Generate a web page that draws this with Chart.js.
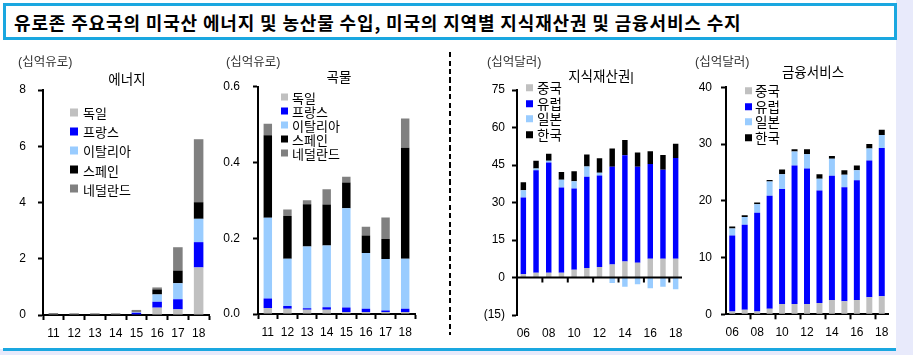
<!DOCTYPE html>
<html><head><meta charset="utf-8">
<script src="https://cdn.jsdelivr.net/npm/chart.js@4"></script>
<style>
html,body{margin:0;padding:0;}
body{width:913px;height:355px;background:#e8eafb;position:relative;overflow:hidden;font-family:"Liberation Sans","Noto Sans CJK KR",sans-serif;}
#sheet{position:absolute;left:0;top:0;width:896px;height:349px;background:#fff;}
#titlebox{position:absolute;left:3px;top:3px;width:894px;height:37px;box-sizing:border-box;border:3px solid #1aa7e0;background:#fff;}
#title{position:absolute;left:14px;top:22px;transform:translateY(-50%);font-family:"Noto Sans CJK KR",sans-serif;font-weight:bold;font-size:18px;letter-spacing:0.85px;white-space:nowrap;color:#000;}
#bottomline{position:absolute;left:3px;top:348px;width:893px;height:3px;background:#1aa7e0;}
#sep{position:absolute;left:449px;top:52px;width:2px;height:283px;background:repeating-linear-gradient(to bottom,#000 0px,#000 5px,rgba(0,0,0,0) 5px,rgba(0,0,0,0) 8.5px);}
canvas{position:absolute;left:0;top:0;}
.txt{position:absolute;white-space:nowrap;line-height:1;}
.unit{font-size:12.5px;color:#333;transform:translateY(-50%);}
.ptitle{font-size:13.5px;color:#000;transform:translate(-50%,-50%);}
.lgrow{position:absolute;white-space:nowrap;line-height:1;transform:translateY(-50%);display:flex;align-items:center;}
.lgsq{display:inline-block;}
</style>
</head><body>
<div id="sheet"></div>
<div id="titlebox"></div>
<div id="title">유로존 주요국의 미국산 에너지 및 농산물 수입, 미국의 지역별 지식재산권 및 금융서비스 수지</div>
<div id="bottomline"></div>
<div id="sep"></div>
<canvas id="c1" width="913" height="355"></canvas>
<canvas id="c2" width="913" height="355"></canvas>
<canvas id="c3" width="913" height="355"></canvas>
<canvas id="c4" width="913" height="355"></canvas>
<div class="txt unit" style="left:18px;top:62px;">(십억유로)</div>
<div class="txt unit" style="left:226px;top:62px;">(십억유로)</div>
<div class="txt unit" style="left:487px;top:62px;">(십억달러)</div>
<div class="txt unit" style="left:695px;top:62px;">(십억달러)</div>
<div class="txt ptitle" style="left:127px;top:80px;">에너지</div>
<div class="txt ptitle" style="left:339px;top:78px;">곡물</div>
<div class="txt ptitle" style="left:601px;top:77px;">지식재산권|</div>
<div class="txt ptitle" style="left:813px;top:73px;">금융서비스</div>
<div id="legends"></div>
<script>
// ---------- DATA ----------
const euroYears = ['11','12','13','14','15','16','17','18'];
const euroCountries = ['독일','프랑스','이탈리아','스페인','네덜란드'];

const energyGermany     = [0.02,0.02,0.02,0.02,0.02,0.26,0.20,1.69];
const energyFrance      = [0.00,0.00,0.00,0.00,0.06,0.21,0.36,0.90];
const energyItaly       = [0.00,0.00,0.00,0.00,0.02,0.26,0.57,0.83];
const energySpain       = [0.00,0.00,0.00,0.00,0.00,0.18,0.45,0.59];
const energyNetherlands = [0.05,0.04,0.04,0.04,0.08,0.07,0.83,2.24];

const grainGermany     = [0.016,0.014,0.011,0.011,0.005,0.005,0.005,0.005];
const grainFrance      = [0.025,0.007,0.004,0.007,0.012,0.009,0.004,0.009];
const grainItaly       = [0.213,0.125,0.163,0.163,0.262,0.147,0.136,0.132];
const grainSpain       = [0.218,0.113,0.112,0.108,0.068,0.046,0.053,0.293];
const grainNetherlands = [0.030,0.017,0.010,0.040,0.015,0.023,0.057,0.077];

const usYears = ['06','07','08','09','10','11','12','13','14','15','16','17','18'];
const usRegions = ['중국','유럽','일본','한국'];

const ipChina  = [1.3,1.9,1.9,1.9,3.1,3.8,4.2,5.2,6.4,5.9,7.5,7.5,7.5];
const ipEurope = [30.7,41.0,44.1,34.1,32.5,36.5,36.6,39.1,42.5,38.4,37.9,35.6,40.3];
const ipJapan  = [2.9,0.7,0.7,3.1,2.9,4.1,1.1,-2.2,-3.7,-2.7,-4.3,-3.7,-4.7];
const ipKorea  = [3.2,3.1,2.8,3.1,4.0,4.8,5.8,7.3,6.1,5.7,5.1,5.9,5.7];

const finChina  = [0.5,0.8,0.5,1.0,1.8,1.8,1.8,2.0,2.5,2.3,2.5,3.0,3.2];
const finEurope = [13.4,15.0,17.4,19.9,20.3,24.4,23.9,19.8,21.9,20.1,21.1,24.1,26.1];
const finJapan  = [1.2,1.35,1.5,2.5,2.6,2.5,2.5,2.1,3.0,2.2,1.8,2.1,2.3];
const finKorea  = [0.35,0.3,0.3,0.25,0.8,0.4,0.9,0.8,0.5,0.8,0.8,0.8,0.9];

const energyTicks = {min:0,max:8,step:2};
const grainTicks  = {min:0,max:0.6,step:0.2};
const ipTicks     = {min:-15,max:75,step:15};
const finTicks    = {min:0,max:40,step:10};

// ---------- STYLE ----------
const C_LGRAY='#c0c0c0', C_BLUE='#0000ff', C_LBLUE='#99ccff', C_BLACK='#000000', C_GRAY='#808080';
const euroColors=[C_LGRAY,C_BLUE,C_LBLUE,C_BLACK,C_GRAY];
const usColors=[C_LGRAY,C_BLUE,C_LBLUE,C_BLACK];

Chart.defaults.font.family='"Liberation Sans","Noto Sans CJK KR",sans-serif';
Chart.defaults.font.size=12;
Chart.defaults.color='#000';
Chart.defaults.animation=false;

const YW = 45; // fixed y-axis box width

function mkDatasets(labels, arrays, colors, bp){
  return arrays.map((d,i)=>({label:labels[i],data:d,backgroundColor:colors[i],borderWidth:0,
    categoryPercentage:1,barPercentage:bp,stack:'s'}));
}

function yAxis(t, pad, fmt){
  return {
    stacked:true,min:t.min,max:t.max,
    ticks:{stepSize:t.step,padding:pad,callback:fmt,color:'#000',font:{size:12}},
    border:{display:true,color:'#000',width:2},
    grid:{display:true,drawOnChartArea:false,drawTicks:true,tickLength:5,tickColor:'#000',tickWidth:2},
    afterFit(s){s.width=YW;}
  };
}

function mkChart(id, labels, datasets, yOpt, xOpt, padding, plugins){
  return new Chart(document.getElementById(id),{
    type:'bar',
    data:{labels:labels,datasets:datasets},
    options:{
      responsive:false,devicePixelRatio:1,
      layout:{padding:padding},
      plugins:{legend:{display:false},tooltip:{enabled:false}},
      scales:{x:xOpt,y:yOpt}
    },
    plugins:plugins||[]
  });
}

const xFull = (pad)=>({
  stacked:true,
  ticks:{padding:pad,autoSkip:false,maxRotation:0,color:'#000',font:{size:12}},
  border:{display:true,color:'#000',width:2},
  grid:{display:true,offset:true,drawOnChartArea:false,drawTicks:true,tickLength:5,tickColor:'#000',tickWidth:2},
  afterFit(s){s.height=30;}
});

// Panel 1: energy (plot area x 43..209, y 90..315)
const ch1 = mkChart('c1', euroYears,
  mkDatasets(euroCountries,[energyGermany,energyFrance,energyItaly,energySpain,energyNetherlands],euroColors,0.46),
  yAxis(energyTicks,12,v=>String(v)),
  xFull(6),
  {left:43-YW,right:704,top:90,bottom:10});

// Panel 2: grain (plot area x 258..415)
const ch2 = mkChart('c2', euroYears,
  mkDatasets(euroCountries,[grainGermany,grainFrance,grainItaly,grainSpain,grainNetherlands],euroColors,0.43),
  yAxis(grainTicks,13,v=>Number(v).toFixed(1)),
  xFull(6),
  {left:258-YW,right:498,top:86.7,bottom:11});

// zero line + tick marks plugin for panel 3
const zeroLinePlugin = {
  id:'zeroLine',
  afterDatasetsDraw(chart){
    const {ctx, chartArea, scales:{x,y}} = chart;
    const y0 = y.getPixelForValue(0);
    ctx.save();
    ctx.strokeStyle='#000';
    ctx.lineWidth=2;
    ctx.beginPath();
    ctx.moveTo(chartArea.left, y0);
    ctx.lineTo(chartArea.right, y0);
    ctx.stroke();
    for(let i=2;i<usYears.length;i+=2){
      const bx=(x.getPixelForValue(i)+x.getPixelForValue(i-1))/2;
      ctx.beginPath();
      ctx.moveTo(bx,y0);
      ctx.lineTo(bx,y0+5);
      ctx.stroke();
    }
    ctx.restore();
  }
};

// Panel 3: IP (plot area x 517..682, y 90..315)
const ch3 = mkChart('c3', usYears,
  mkDatasets(usRegions,[ipChina,ipEurope,ipJapan,ipKorea],usColors,0.43),
  yAxis(ipTicks,7,v=>v<0?'('+(-v)+')':String(v)),
  {
    stacked:true,
    ticks:{padding:3,autoSkip:false,maxRotation:0,color:'#000',font:{size:12},
      callback(v,i){return i%2===0?this.getLabelForValue(v):'';}},
    border:{display:false},
    grid:{display:false},
    afterFit(s){s.height=30;}
  },
  {left:517-YW,right:231,top:90,bottom:10},
  [zeroLinePlugin]);

// Panel 4: financial (plot area x 726..888)
const x4 = xFull(6);
x4.ticks.callback = function(v,i){return i%2===0?this.getLabelForValue(v):'';};
x4.grid.tickColor = ctx => (ctx.index%2===0 && ctx.index>0 && ctx.index<usYears.length) ? '#000' : 'rgba(0,0,0,0)';
const ch4 = mkChart('c4', usYears,
  mkDatasets(usRegions,[finChina,finEurope,finJapan,finKorea],usColors,0.48),
  yAxis(finTicks,9,v=>String(v)),
  x4,
  {left:726-YW,right:25,top:87.3,bottom:10.7});

// ---------- HTML legends built from chart datasets ----------
function legend(chart, sqX, sqSize, txtX, y0, step, fs){
  const host=document.getElementById('legends');
  chart.data.datasets.forEach((ds,i)=>{
    const row=document.createElement('div');
    row.className='lgrow';
    row.style.left=sqX+'px';
    row.style.top=(y0+i*step)+'px';
    const sq=document.createElement('span');
    sq.className='lgsq';
    sq.style.width=sqSize+'px';sq.style.height=sqSize+'px';
    sq.style.background=ds.backgroundColor;
    sq.style.marginRight=(txtX-sqX-sqSize)+'px';
    const t=document.createElement('span');
    t.textContent=ds.label;
    t.style.fontSize=fs+'px';
    t.style.fontFamily='"Noto Sans CJK KR",sans-serif';
    row.appendChild(sq);row.appendChild(t);
    host.appendChild(row);
  });
}
legend(ch1,70,8,83,112,19.2,13);
legend(ch2,281,7,292,97,14,13);
legend(ch3,526,7,537,88,15.5,13.5);
legend(ch4,745,7,755,91,15.5,13.5);
</script>
</body></html>
